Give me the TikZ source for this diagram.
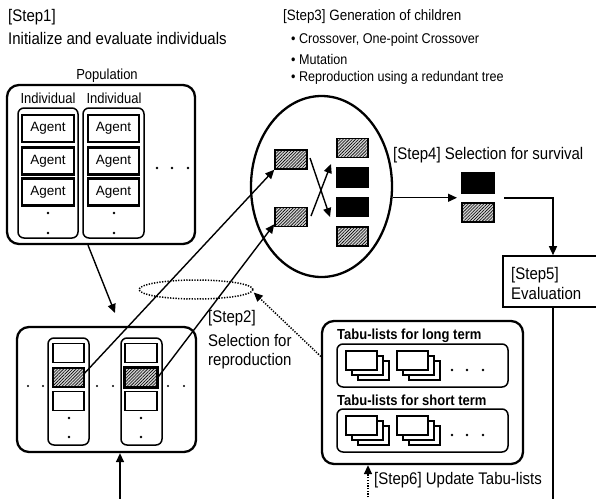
\documentclass[tikz,border=0pt]{standalone}
\usepackage{fontspec}
\setmainfont{Liberation Sans}
\usetikzlibrary{arrows.meta,shapes.geometric,patterns.meta}

% three stacked sheets, front sheet's top-left corner at (#1,#2)
\newcommand\tabustack[2]{%
  \foreach \o in {12,6,0}{%
    \filldraw[fill=white, line width=1.4pt]
      ({#1+\o},{#2+\o*5/6}) rectangle ({#1+\o+31},{#2+\o*5/6+19});
  }%
}

\tikzset{
  lbl/.style={font=\fontsize{15}{18}\selectfont, anchor=west, inner sep=0pt, yscale=1.12},
  small/.style={font=\fontsize{13}{15}\selectfont, inner sep=0pt, yscale=1.12},
  bigbox/.style={draw, line width=2.3pt, rounded corners=12pt, inner sep=0pt},
  indbox/.style={draw, line width=1.5pt, rounded corners=6pt, inner sep=0pt},
  agent/.style={draw, line width=2.1pt, inner sep=0pt, minimum height=27pt,
    font=\fontsize{13.5}{15}\selectfont, yscale=1.0},
  cell/.style={draw, line width=1.7pt, inner sep=0pt, minimum width=31pt, minimum height=19pt},
  hatch/.style={cell, line width=1.5pt, preaction={fill=gray!35},
    pattern={Lines[angle=45,distance=2.2pt,line width=0.6pt]}},
  solidcell/.style={cell, line width=1.5pt, fill=black},
  arr/.style={line width=1.4pt, -{Triangle[length=9pt,width=8pt]}},
  dotline/.style={line width=1.5pt, dash pattern=on 1.3pt off 1.4pt},
  dotarr/.style={dotline, -{Triangle[length=9pt,width=8pt]}},
}

\begin{document}
\begin{tikzpicture}[x=1pt,y=-1pt]
\useasboundingbox (0,0) rectangle (596,498);

% ---------- Step 1: initial population ----------
\node[lbl] (s1a) at (8,17) {[Step1]};
\node[lbl] (s1b) at (8,38) {Initialize and evaluate individuals};

\node[small] (poplbl) at (107,76) {Population};
\node[bigbox, minimum width=188pt, minimum height=159pt] (pop) at (101,164.5) {};
\node[indbox, minimum width=60pt, minimum height=130pt] (ind1) at (48,173) {};
\node[indbox, minimum width=61pt, minimum height=130pt] (ind2) at (113.5,173) {};
\node[small] (indl1) at (48,98) {Individual};
\node[small] (indl2) at (114,98) {Individual};

\foreach \r/\y in {1/128.5,2/161,3/192}{
  \node[agent, minimum width=52pt] (a1\r) at (48,\y) {Agent};
  \node[agent, minimum width=51pt] (a2\r) at (113.5,\y) {Agent};
}
\foreach \x in {48,114}{
  \fill (\x,213) circle (1.3pt);
  \fill (\x,233) circle (1.3pt);
}
\foreach \x in {157,172,188}{ \fill (\x,168) circle (1.3pt); }

% ---------- selected population ----------
\node[bigbox, minimum width=179pt, minimum height=125pt] (bot) at (106.5,389.5) {};
\node[indbox, minimum width=41pt, minimum height=107pt] (bi1) at (68.5,391.5) {};
\node[indbox, minimum width=41pt, minimum height=107pt] (bi2) at (141.5,391.5) {};

\node[cell] (b1a) at (68.5,353) {};
\node[hatch, minimum width=31pt] (b1h) at (68.5,377.5) {};
\node[cell] (b1c) at (68.5,401) {};
\node[cell, minimum width=32pt] (b2a) at (141,353) {};
\node[hatch, minimum width=32pt] (b2h) at (141,377.5) {};
\node[cell, minimum width=32pt] (b2c) at (141,401) {};
\draw[line width=1.7pt] (b1h.north west) rectangle (b1h.south east);
\draw[line width=1.7pt] (b2h.north west) rectangle (b2h.south east);

\foreach \x in {69,141}{
  \fill (\x,418) circle (1.3pt);
  \fill (\x,437) circle (1.3pt);
}
\foreach \x in {28,43,97,113,168,184}{ \fill (\x,386) circle (1.1pt); }

\coordinate (popin) at (115,313);
\draw[arr] ([xshift=-13pt]pop.south) -- (popin);
\coordinate (bb) at (120,500);
\draw[arr] (bb) -- (bb |- bot.south);

% ---------- Step 2: selection for reproduction ----------
\node[ellipse, dotline, draw, minimum width=114pt, minimum height=19pt, inner sep=0pt] (sel) at (196,289.5) {};
\node[lbl] (s2a) at (208,318) {[Step2]};
\node[lbl] (s2b) at (208,340) {Selection for};
\node[lbl] (s2c) at (208,361) {reproduction};

% ---------- Step 3: generation of children ----------
\node[lbl, font=\fontsize{13.4}{15}\selectfont] (s3) at (283,17) {[Step3] Generation of children};
\node[lbl, font=\fontsize{12.6}{15}\selectfont] (s3b1) at (291,40) {• Crossover, One-point Crossover};
\node[lbl, font=\fontsize{12.6}{15}\selectfont] (s3b2) at (291,59) {• Mutation};
\node[lbl, font=\fontsize{12.6}{15}\selectfont] (s3b3) at (291,78) {• Reproduction using a redundant tree};

\node[ellipse, draw, line width=2.3pt, minimum width=141pt, minimum height=181pt, inner sep=0pt] (big) at (321.5,186.5) {};

\node[hatch, minimum width=32pt] (lu) at (291,159.5) {};
\node[hatch, minimum width=32pt] (ll) at (291,217) {};
\node[hatch] (r1) at (352.5,148) {};
\node[solidcell] (r2) at (352.5,177.5) {};
\node[solidcell] (r3) at (352.5,207) {};
\node[hatch] (r4) at (352.5,236.5) {};

\draw[arr] ([yshift=4pt]b1h.east) -- (lu.south west);
\draw[arr] (b2h.east) -- ([yshift=3pt]ll.south west);

\coordinate (xa) at (310,158);
\coordinate (xb) at (330,217);
\coordinate (xc) at (311,216);
\coordinate (xd) at (331,164);
\draw[arr] (xa) -- (xb);
\draw[arr] (xc) -- (xd);

% ---------- Step 4: selection for survival ----------
\node[lbl] (s4) at (393,155) {[Step4] Selection for survival};
\node[solidcell, minimum width=32pt, minimum height=20pt] (sb) at (478,183) {};
\node[hatch, minimum width=32pt] (sh) at (478,212.5) {};

\coordinate (survin) at (457,198);
\draw[arr] (big.-9) -- (big.-9 -| survin);

% ---------- Step 5: evaluation ----------
\node[draw, line width=1.6pt, minimum width=100pt, minimum height=51pt, inner sep=0pt] (s5) at (553,281.5) {};
\node[lbl] (s5a) at (511,275) {[Step5]};
\node[lbl] (s5b) at (511,293) {Evaluation};

\coordinate (s4o) at (504,198);
\draw[arr] (s4o) -| (s5.north);
\coordinate (s5end) at (553,500);
\draw[line width=1.4pt] (s5.south) -- (s5end);

% ---------- Tabu lists ----------
\node[bigbox, minimum width=201pt, minimum height=143pt] (tabu) at (422.5,392.5) {};
\node[indbox, minimum width=171pt, minimum height=43pt] (tl) at (422.5,365.5) {};
\node[indbox, minimum width=171pt, minimum height=43pt] (ts) at (422.5,430.5) {};
\node[lbl, font=\bfseries\fontsize{13}{15}\selectfont] (tll) at (337,336) {Tabu-lists for long term};
\node[lbl, font=\bfseries\fontsize{13}{15}\selectfont] (tsl) at (337,400) {Tabu-lists for short term};

\tabustack{346}{351}
\tabustack{397}{351}
\tabustack{346}{416}
\tabustack{397}{416}
\foreach \x in {452,467,483}{
  \fill (\x,370) circle (1.3pt);
  \fill (\x,435) circle (1.3pt);
}

\draw[dotarr] ([yshift=36pt]tabu.west) -- ([yshift=-3pt]sel.east);

% ---------- Step 6: update tabu lists ----------
\coordinate (s6b) at (368,500);
\draw[dotarr] (s6b) -- (s6b |- tabu.south);
\node[lbl] (s6) at (374,480) {[Step6] Update Tabu-lists};
\end{tikzpicture}
\end{document}
